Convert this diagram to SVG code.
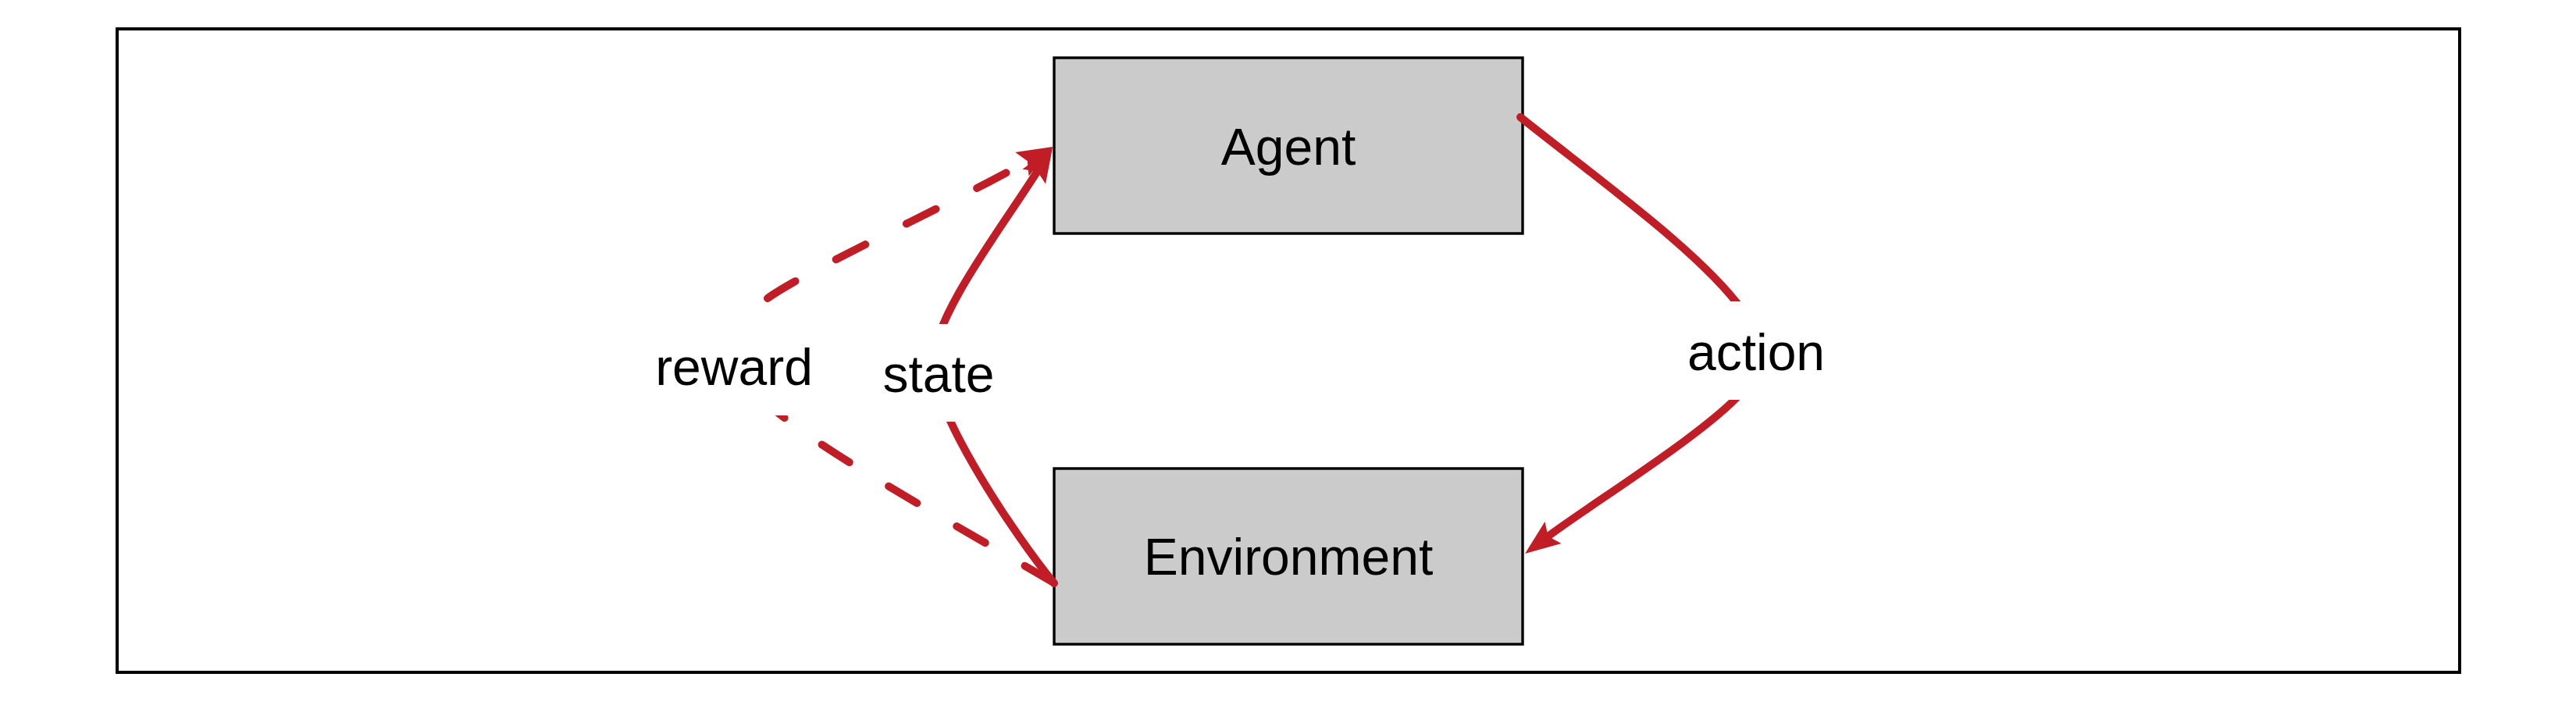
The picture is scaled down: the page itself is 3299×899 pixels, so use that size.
<svg xmlns="http://www.w3.org/2000/svg" width="3299" height="899" viewBox="0 0 3299 899">
  <style>
    .node { fill: #cbcbcb; stroke: #000000; stroke-width: 3.4; }
    .lbl { font-family: "Liberation Sans", Arial, Helvetica, sans-serif; font-size: 66px; fill: #000000; text-anchor: middle; }
    .edge { fill: none; stroke: #c11d26; stroke-width: 10; stroke-linecap: round; }
    .dash { stroke-dasharray: 42 59; }
    .lblbg { fill: #ffffff; stroke: none; }
  </style>
  <defs>
    <marker id="ah" markerUnits="userSpaceOnUse" markerWidth="60" markerHeight="40" viewBox="0 -20 60 40" refX="8" refY="0" orient="auto">
      <path d="M0,-17.5 L45,0 L0,17.5 L8,0 Z" fill="#c11d26"/>
    </marker>
  </defs>
  <rect x="0" y="0" width="3299" height="899" fill="#ffffff"/>
  <g id="frame">
    <rect x="150" y="37" width="3000" height="824" fill="#ffffff" stroke="#000000" stroke-width="4"/>
  </g>
  <g id="agent">
    <rect class="node" x="1350" y="74" width="600" height="225"/>
    <text class="lbl" x="1650" y="211">Agent</text>
  </g>
  <g id="environment">
    <rect class="node" x="1350" y="600" width="600" height="225"/>
    <text class="lbl" x="1650" y="736">Environment</text>
  </g>
  <g id="connectors">
    <g id="edge-action">
      <path class="edge" marker-end="url(#ah)" d="M1947,150 C2050,232 2180,325 2232,398 L2234,498 C2195,548 2038.6,644.8 1982.6,686.8"/>
      <rect class="lblbg" x="2140" y="386" width="218" height="126"/>
      <text class="lbl" x="2249" y="474">action</text>
    </g>
    <g id="edge-state">
      <path class="edge" marker-end="url(#ah)" d="M1350,747 C1300,686 1195,530 1195,465 C1195,405 1286,287 1328.5,219.4"/>
      <rect class="lblbg" x="1122" y="415" width="162" height="125"/>
      <text class="lbl" x="1202" y="502">state</text>
    </g>
    <g id="edge-reward">
      <path class="edge dash" d="M1349,746 C1100,600 945,520 945,455"/>
      <path class="edge dash" marker-end="url(#ah)" d="M983,382 C1030,347.6 1229,255.8 1315.8,206.3"/>
      <rect class="lblbg" x="832" y="406" width="218" height="126"/>
      <text class="lbl" x="940" y="493">reward</text>
    </g>
  </g>
</svg>
